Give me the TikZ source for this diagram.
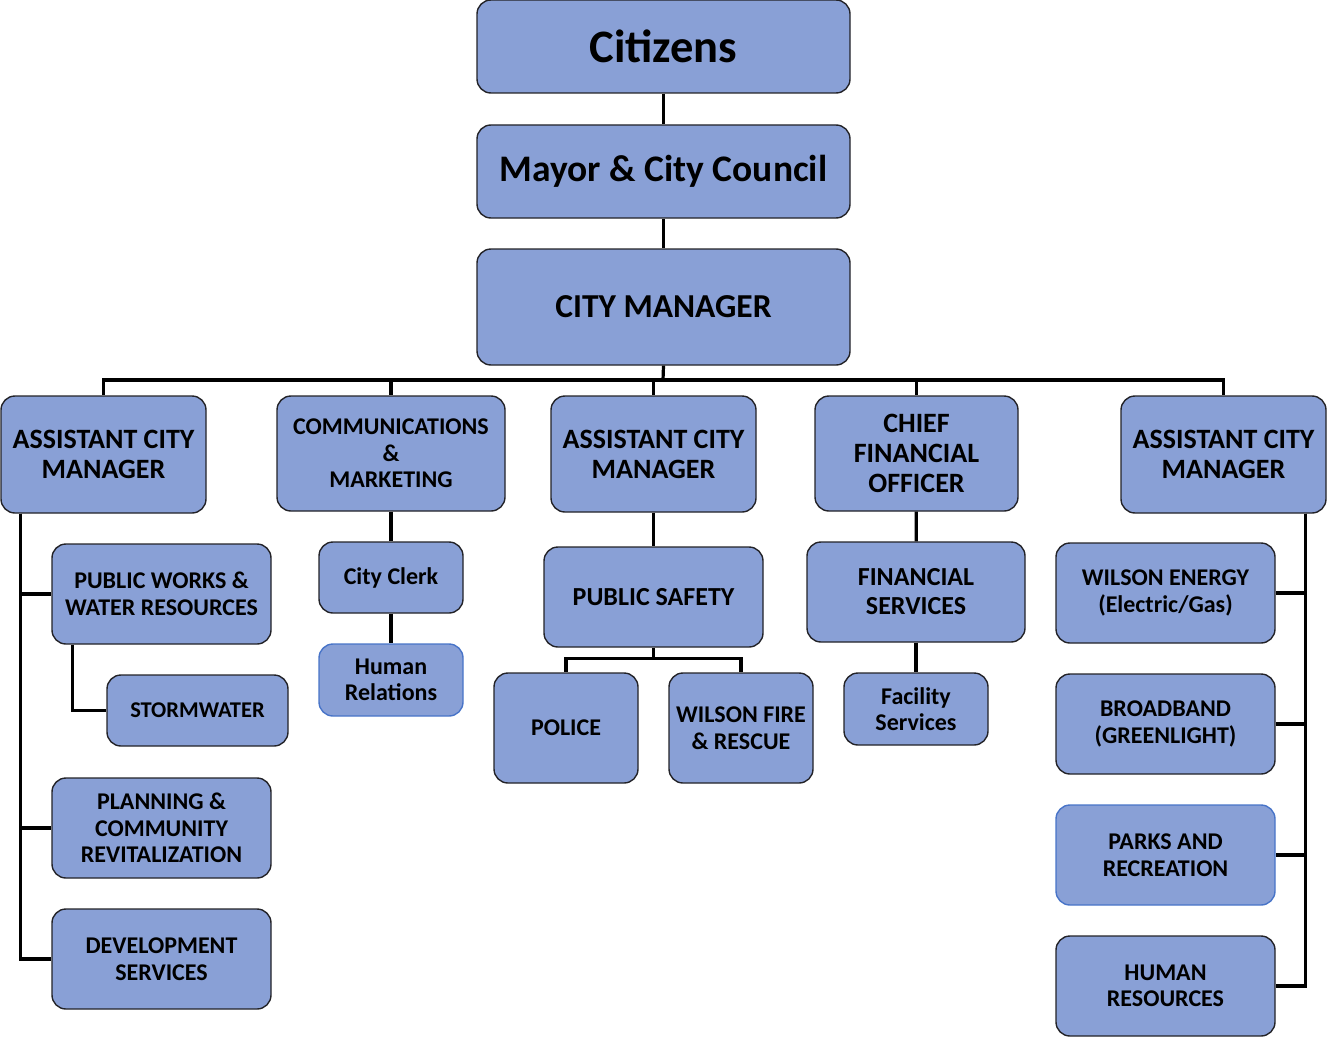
\documentclass[tikz,border=0pt]{standalone}
\usepackage{fontspec}
\setmainfont{Carlito}
\usepackage{tikz}
\usetikzlibrary{positioning}
\definecolor{boxfill}{RGB}{137,160,214}
\definecolor{boxline}{RGB}{35,35,40}
\definecolor{softblue}{RGB}{72,116,200}

\begin{document}
\begin{tikzpicture}[x=1pt,y=-1pt,
  unit node/.style={rectangle,rounded corners=14pt,fill=boxfill,draw=boxline,line width=1.4pt,align=center,inner sep=0pt},
  soft node/.style={unit node,draw=softblue},
  huge text/.style={font=\bfseries\fontsize{46.5}{54}\selectfont},
  big text/.style={font=\bfseries\fontsize{37.5}{44}\selectfont},
  mid text/.style={font=\bfseries\fontsize{33.5}{40}\selectfont},
  head text/.style={font=\bfseries\fontsize{28}{30}\selectfont},
  sub text/.style={font=\bfseries\fontsize{24}{26.5}\selectfont},
  wide box/.style={minimum width=219pt,minimum height=100pt},
  small box/.style={minimum width=144pt,minimum height=71pt},
  link/.style={draw=black,line width=3.2pt}]

  \useasboundingbox (0,0) rectangle (1327,1038);

  % top of the chart
  \node[unit node,huge text,minimum width=373pt,minimum height=93pt] (citizens) at (663.5,46.5) {Citizens};
  \node[unit node,big text,minimum width=373pt,minimum height=93pt] (council) at (663.5,171.5) {Mayor \& City Council};
  \node[unit node,mid text,minimum width=373pt,minimum height=116pt] (cm) at (663.5,307) {CITY MANAGER};

  % second row
  \node[unit node,head text,minimum width=205pt,minimum height=117pt] (acm1) at (103.5,454.5) {ASSISTANT CITY\\MANAGER};
  \node[unit node,sub text,minimum width=228pt,minimum height=115pt] (comms) at (391,453.5) {COMMUNICATIONS\\\&\\MARKETING};
  \node[unit node,head text,minimum width=205pt,minimum height=116pt] (acm2) at (653.5,454) {ASSISTANT CITY\\MANAGER};
  \node[unit node,head text,minimum width=203pt,minimum height=115pt] (cfo) at (916.5,453.5) {CHIEF\\FINANCIAL\\OFFICER};
  \node[unit node,head text,minimum width=205pt,minimum height=117pt] (acm3) at (1223.5,454.5) {ASSISTANT CITY\\MANAGER};

  % left branch
  \node[unit node,sub text,wide box] (works) at (161.5,594) {PUBLIC WORKS \&\\WATER RESOURCES};
  \node[unit node,sub text,font=\bfseries\fontsize{22.5}{26}\selectfont,minimum width=181pt,minimum height=71pt] (storm) at (197.5,710.5) {STORMWATER};
  \node[unit node,sub text,wide box] (planning) at (161.5,828) {PLANNING \&\\COMMUNITY\\REVITALIZATION};
  \node[unit node,sub text,wide box] (devserv) at (161.5,959) {DEVELOPMENT\\SERVICES};

  % communications branch
  \node[unit node,sub text,small box] (clerk) at (391,577.5) {City Clerk};
  \node[soft node,sub text,small box,minimum height=72pt] (relations) at (391,680) {Human\\Relations};

  % middle branch
  \node[unit node,sub text,font=\bfseries\fontsize{26}{29}\selectfont,wide box] (safety) at (653.5,597) {PUBLIC SAFETY};
  \node[unit node,sub text,minimum width=144pt,minimum height=110pt] (police) at (566,728) {POLICE};
  \node[unit node,sub text,minimum width=144pt,minimum height=110pt] (fire) at (741,728) {WILSON FIRE\\\& RESCUE};

  % finance branch
  \node[unit node,sub text,font=\bfseries\fontsize{26}{29}\selectfont,minimum width=218pt,minimum height=100pt] (finserv) at (916,592) {FINANCIAL\\SERVICES};
  \node[unit node,sub text,small box,minimum height=72pt] (facility) at (916,709) {Facility\\Services};

  % right branch
  \node[unit node,sub text,wide box] (energy) at (1165.5,593) {WILSON ENERGY\\(Electric/Gas)};
  \node[unit node,sub text,wide box] (broadband) at (1165.5,724) {BROADBAND\\(GREENLIGHT)};
  \node[soft node,sub text,wide box] (parks) at (1165.5,855) {PARKS AND\\RECREATION};
  \node[unit node,sub text,wide box] (hr) at (1165.5,986) {HUMAN\\RESOURCES};

  % connectors
  \coordinate (bus) at (663,380);
  \draw[link] (citizens) -- (council);
  \draw[link] (council) -- (cm);
  \draw[link] (cm.south) -- (bus);
  \foreach \n in {acm1,comms,acm2,cfo,acm3}
    \draw[link] (bus) -| (\n.north);

  \foreach \n in {works,planning,devserv}
    \draw[link] ([xshift=20pt]acm1.south west) |- (\n.west);
  \draw[link] ([xshift=21pt]works.south west) |- (storm.west);

  \draw[link] (comms) -- (clerk);
  \draw[link] (clerk) -- (relations);

  \draw[link] (acm2) -- (safety);
  \draw[link] (safety.south) -- ++(0,11) coordinate (split);
  \draw[link] (split) -| (police.north);
  \draw[link] (split) -| (fire.north);

  \draw[link] (cfo) -- (finserv);
  \draw[link] (finserv) -- (facility);

  \foreach \n in {energy,broadband,parks,hr}
    \draw[link] ([xshift=-21pt]acm3.south east) |- (\n.east);
\end{tikzpicture}
\end{document}
